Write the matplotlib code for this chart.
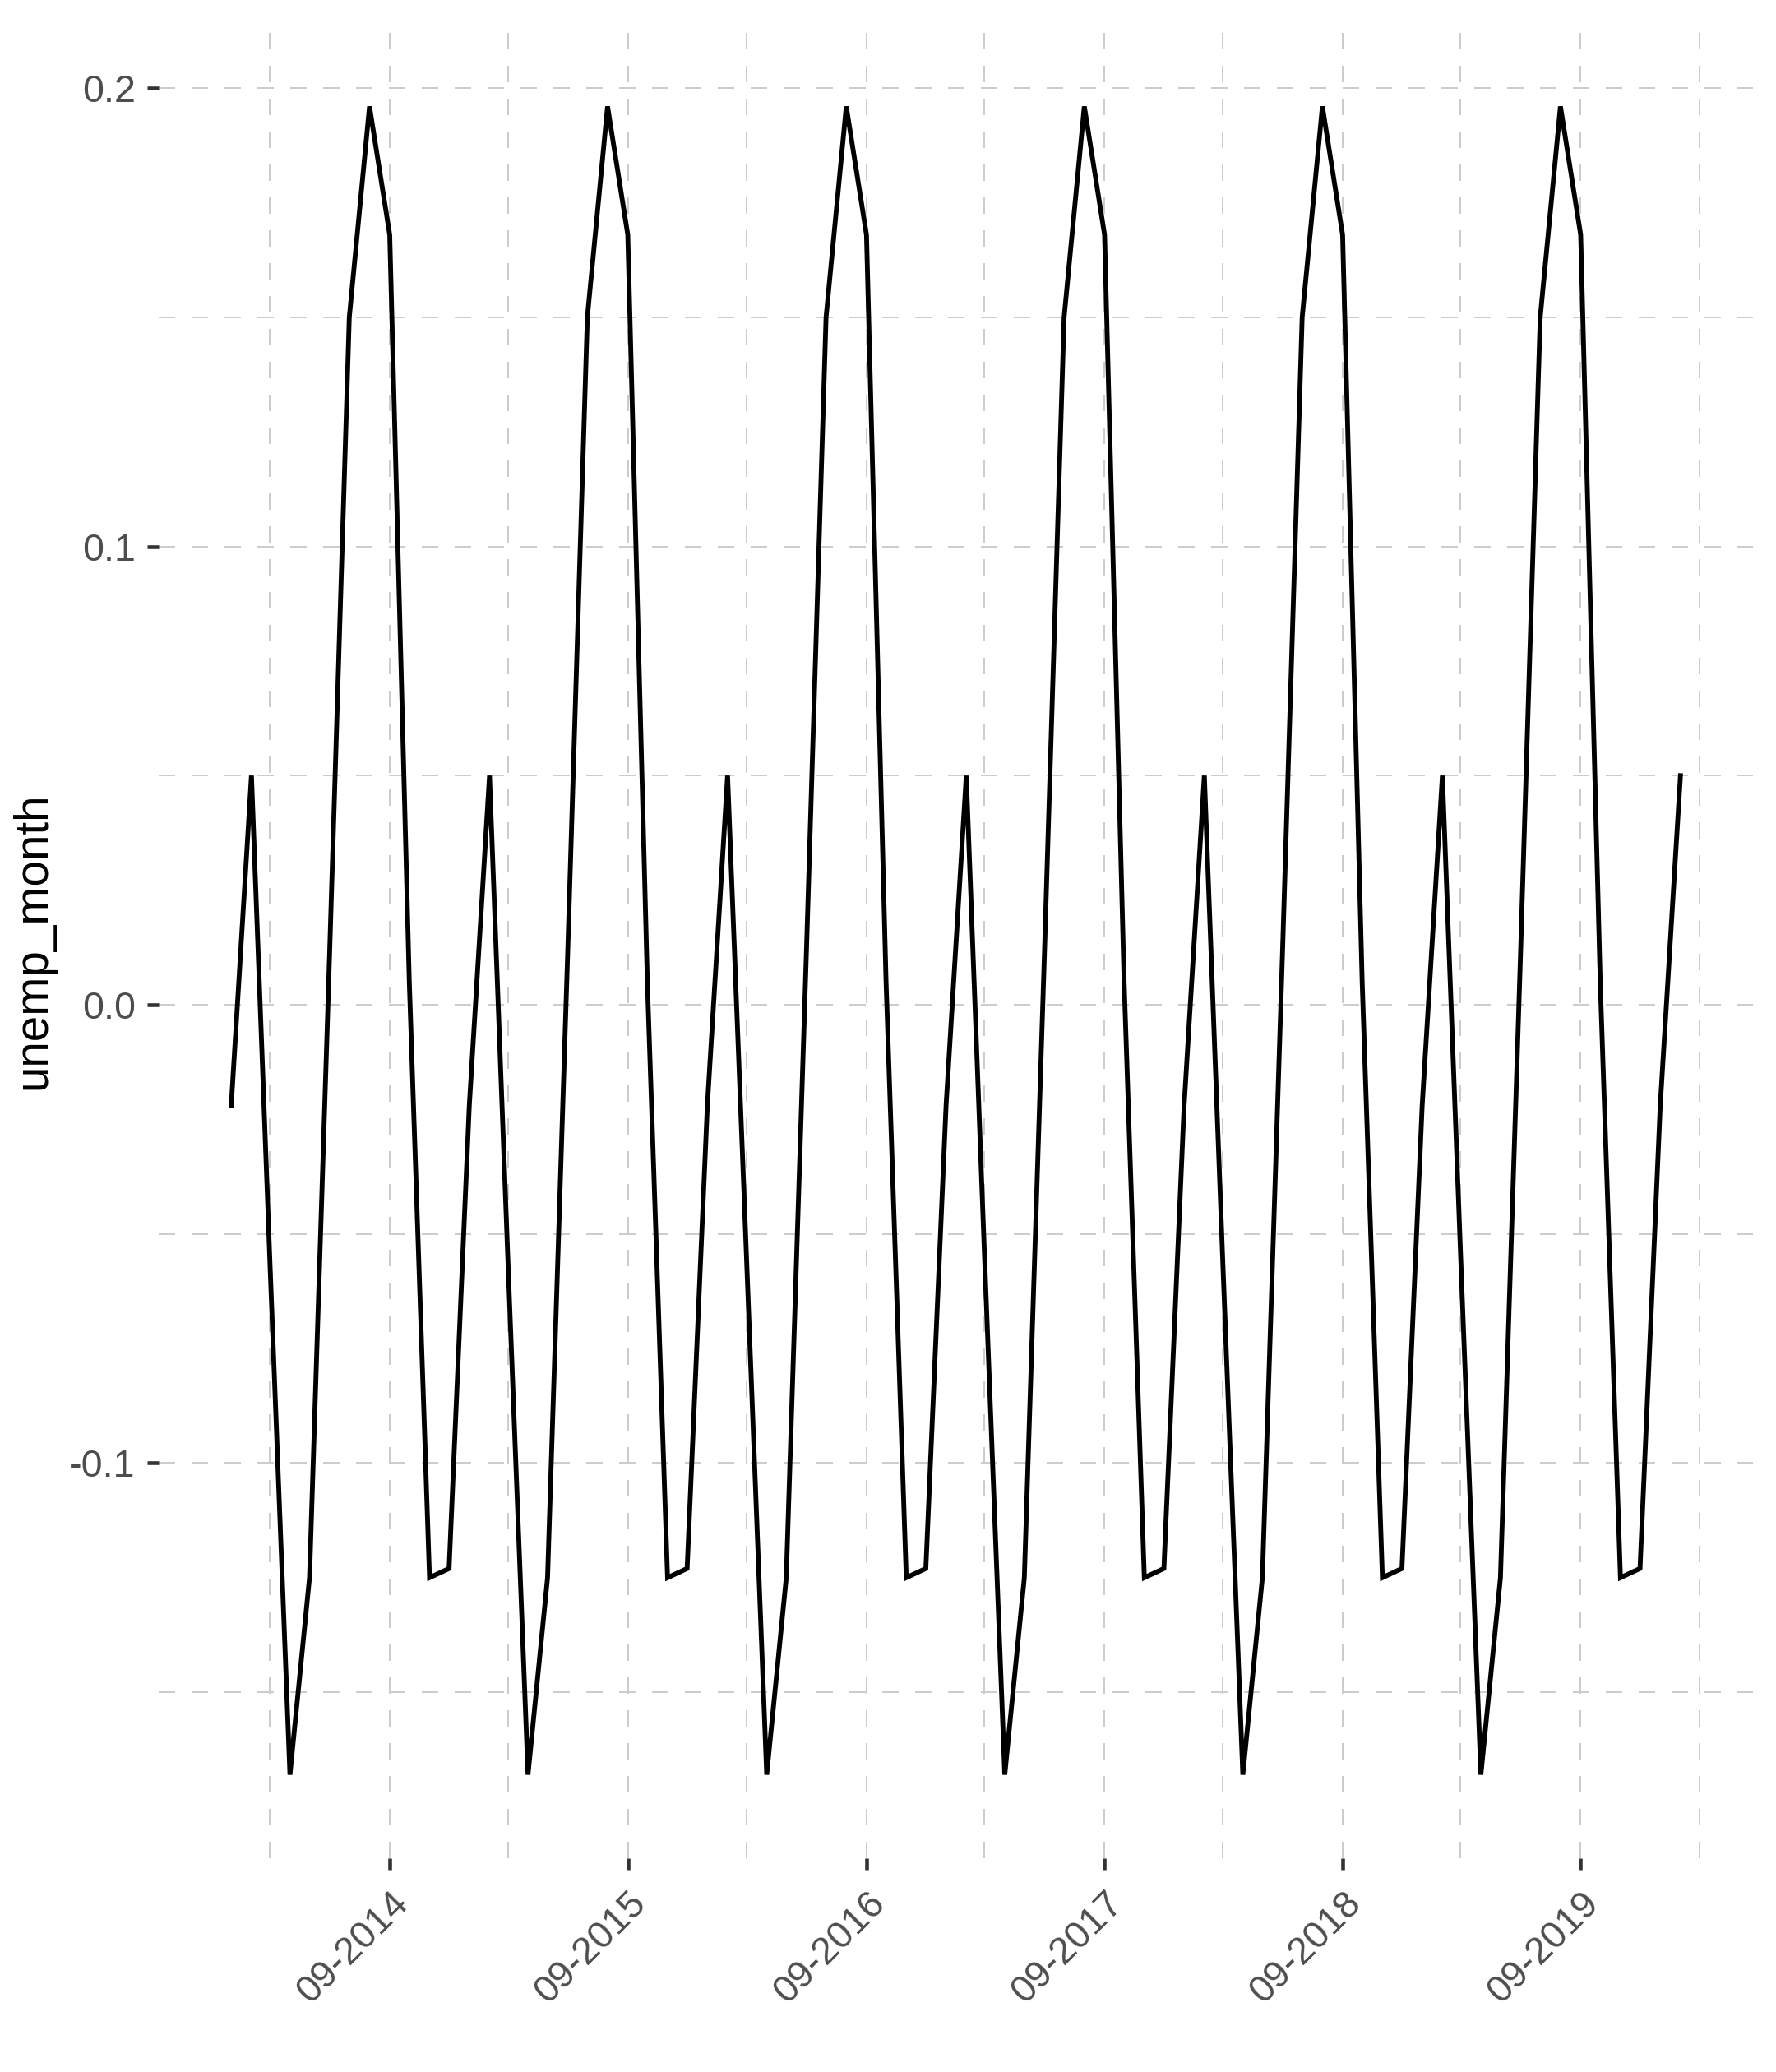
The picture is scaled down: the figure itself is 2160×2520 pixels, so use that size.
import numpy as np
import pandas as pd
import matplotlib
matplotlib.use('Agg')
import matplotlib.pyplot as plt
import matplotlib.dates as mdates

plt.rcParams['font.family'] = ['Liberation Sans', 'DejaVu Sans']

# monthly seasonal component, Jan 2014 - Feb 2020
months = pd.date_range('2014-01-01', '2020-02-01', freq='MS')
unemp_month = [
    -0.022, 0.050, -0.055, -0.168, -0.125, 0.012, 0.150, 0.196, 0.168, 0.005, -0.125, -0.123,  # 2014
    -0.022, 0.050, -0.055, -0.168, -0.125, 0.012, 0.150, 0.196, 0.168, 0.005, -0.125, -0.123,  # 2015
    -0.022, 0.050, -0.055, -0.168, -0.125, 0.012, 0.150, 0.196, 0.168, 0.005, -0.125, -0.123,  # 2016
    -0.022, 0.050, -0.055, -0.168, -0.125, 0.012, 0.150, 0.196, 0.168, 0.005, -0.125, -0.123,  # 2017
    -0.022, 0.050, -0.055, -0.168, -0.125, 0.012, 0.150, 0.196, 0.168, 0.005, -0.125, -0.123,  # 2018
    -0.022, 0.050, -0.055, -0.168, -0.125, 0.012, 0.150, 0.196, 0.168, 0.005, -0.125, -0.123,  # 2019
    -0.022, 0.050,                                                                              # 2020
]

y_ticks = [-0.1, 0.0, 0.1, 0.2]
y_labels = ['-0.1', '0.0', '0.1', '0.2']
y_minor = [-0.15, -0.05, 0.05, 0.15]
x_major = pd.date_range('2014-09-01', '2019-09-01', freq='12MS')
x_minor = pd.date_range('2014-03-01', '2020-03-01', freq='12MS')

fig = plt.figure(figsize=(7.2, 8.4), dpi=300)
ax = fig.add_axes([0.0894, 0.1032, 0.8976, 0.8857])

ax.plot(months, unemp_month, color='black', lw=1.4, solid_joinstyle='miter')

# ggplot-like 5% expansion
x0 = mdates.date2num(months[0])
x1 = mdates.date2num(months[-1])
pad = 0.05 * (x1 - x0)
ax.set_xlim(x0 - pad, x1 + pad)
ymin, ymax = min(unemp_month), max(unemp_month)
ypad = 0.05 * (ymax - ymin)
ax.set_ylim(ymin - ypad, ymax + ypad)

ax.set_yticks(y_ticks)
ax.set_yticklabels(y_labels)
ax.set_yticks(y_minor, minor=True)
ax.set_xticks(mdates.date2num(x_major))
ax.set_xticklabels([d.strftime('%m-%Y') for d in x_major])
ax.set_xticks(mdates.date2num(x_minor), minor=True)

for lbl in ax.get_xticklabels():
    lbl.set_rotation(45)
    lbl.set_ha('right')
    lbl.set_rotation_mode('anchor')

ax.grid(True, which='both', color='#cccccc', lw=0.48, linestyle=(0, (10, 10)))
ax.set_axisbelow(True)
for s in ax.spines.values():
    s.set_visible(False)

ax.tick_params(axis='both', which='major', length=3.4, width=1.1, color='#333333',
               labelsize=11.2, labelcolor='#4d4d4d', pad=3.4)
ax.tick_params(axis='x', which='major', pad=4.5)
ax.tick_params(axis='both', which='minor', length=0)

ax.set_ylabel('unemp_month', fontsize=13.6, color='black', labelpad=4)

fig.savefig('out.png', dpi=300, facecolor='white')
